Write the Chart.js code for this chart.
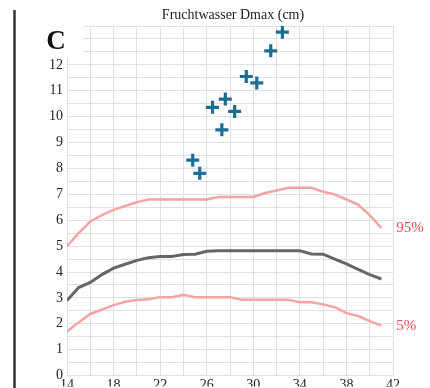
<!DOCTYPE html>
<html>
<head>
<meta charset="utf-8">
<script src="https://cdn.jsdelivr.net/npm/chart.js@4"></script>
<style>
  html, body { margin: 0; padding: 0; background: #fff; }
  #wrap { width: 430px; height: 388px; }
</style>
</head>
<body>
<div id="wrap"><canvas id="myChart" width="430" height="388"></canvas></div>
<script>
// Schwangerschaftswochen
const weeks = [14, 15, 16, 17, 18, 19, 20, 21, 22, 23, 24, 25, 26, 27, 28, 29, 30, 31, 32, 33, 34, 35, 36, 37, 38, 39, 40, 41];
const p95 = [5.0, 5.5, 5.95, 6.2, 6.4, 6.55, 6.7, 6.8, 6.8, 6.8, 6.8, 6.8, 6.8, 6.9, 6.9, 6.9, 6.9, 7.05, 7.15, 7.25, 7.25, 7.25, 7.1, 7.0, 6.8, 6.6, 6.2, 5.7];
const p50 = [2.9, 3.4, 3.6, 3.9, 4.15, 4.3, 4.45, 4.55, 4.6, 4.6, 4.68, 4.69, 4.8, 4.82, 4.82, 4.82, 4.82, 4.82, 4.82, 4.82, 4.82, 4.7, 4.69, 4.5, 4.31, 4.1, 3.9, 3.73];
const p5 = [1.7, 2.05, 2.38, 2.55, 2.72, 2.85, 2.92, 2.95, 3.03, 3.03, 3.12, 3.03, 3.03, 3.03, 3.03, 2.93, 2.93, 2.93, 2.93, 2.93, 2.83, 2.83, 2.75, 2.64, 2.41, 2.3, 2.1, 1.93];

// Messwerte (Kreuze)
const caseWeeks = [24.8, 25.4, 26.5, 27.3, 27.6, 28.4, 29.4, 30.3, 31.5, 32.5];
const caseValues = [8.32, 7.81, 10.36, 9.49, 10.68, 10.2, 11.55, 11.3, 12.54, 13.26];

const xTicks = [14, 18, 22, 26, 30, 34, 38, 42];
const yTicks = [0, 1, 2, 3, 4, 5, 6, 7, 8, 9, 10, 11, 12];

const serif = "'Liberation Serif', 'DejaVu Serif', serif";

function toPoints(xs, ys) {
  return xs.map(function(x, i) { return { x: x, y: ys[i] }; });
}

const extras = {
  id: "extras",
  afterDraw: function(chart) {
    const ctx = chart.ctx;
    const x = chart.scales.x;
    const y = chart.scales.y;
    ctx.save();
    // weisser Kasten hinter dem "C"
    ctx.fillStyle = "#fff";
    ctx.fillRect(17, 0, 66, 58);
    // Rahmenlinie links
    ctx.strokeStyle = "#333";
    ctx.lineWidth = 2.5;
    ctx.beginPath();
    ctx.moveTo(14.5, 10);
    ctx.lineTo(14.5, 388);
    ctx.stroke();
    // Buchstabe C
    ctx.fillStyle = "#111";
    ctx.font = "bold 27px " + serif;
    ctx.textAlign = "center";
    ctx.textBaseline = "middle";
    ctx.fillText("C", 56, 42);
    // Titel
    ctx.font = "14px " + serif;
    ctx.fillStyle = "#222";
    ctx.fillText("Fruchtwasser Dmax (cm)", 233, 15);
    // Perzentil-Beschriftung
    ctx.font = "15px " + serif;
    ctx.fillStyle = "#f04a50";
    ctx.textAlign = "left";
    const last = weeks[weeks.length - 1];
    ctx.fillText("95%", x.getPixelForValue(last) + 15, y.getPixelForValue(p95[p95.length - 1]));
    ctx.fillText("5%", x.getPixelForValue(last) + 15, y.getPixelForValue(p5[p5.length - 1]));
    ctx.restore();
  }
};

const ctx = document.getElementById("myChart").getContext("2d");
new Chart(ctx, {
  type: "line",
  data: {
    datasets: [
      {
        label: "95%",
        data: toPoints(weeks, p95),
        borderColor: "#f5a3a3",
        borderWidth: 2.5,
        pointRadius: 0,
        tension: 0
      },
      {
        label: "50%",
        data: toPoints(weeks, p50),
        borderColor: "#666666",
        borderWidth: 3,
        pointRadius: 0,
        tension: 0
      },
      {
        label: "5%",
        data: toPoints(weeks, p5),
        borderColor: "#f5a3a3",
        borderWidth: 2.5,
        pointRadius: 0,
        tension: 0
      },
      {
        type: "scatter",
        label: "Fall",
        data: toPoints(caseWeeks, caseValues),
        pointStyle: "cross",
        pointRadius: 6.5,
        borderWidth: 3.2,
        borderColor: "#1c6d93",
        backgroundColor: "#1c6d93",
        showLine: false
      }
    ]
  },
  options: {
    responsive: false,
    animation: false,
    layout: { padding: { left: 0, right: 37, top: 26, bottom: 0 } },
    plugins: {
      legend: { display: false },
      tooltip: { enabled: false }
    },
    scales: {
      x: {
        type: "linear",
        min: 14,
        max: 42,
        border: { display: false },
        grid: { color: "#e0e0e0", lineWidth: 1, drawTicks: false },
        afterFit: function(scale) { scale.height = 11; },
        afterBuildTicks: function(scale) {
          const t = [];
          for (let v = 14; v <= 42; v += 2) t.push({ value: v });
          scale.ticks = t;
        },
        ticks: {
          padding: 1,
          maxRotation: 0,
          autoSkip: false,
          color: "#222",
          font: { family: serif, size: 14 },
          callback: function(v) { return xTicks.indexOf(v) >= 0 ? String(v) : ""; }
        }
      },
      y: {
        min: 0,
        max: 13.5,
        border: { display: false },
        grid: { color: "#e0e0e0", lineWidth: 1, drawTicks: false },
        afterFit: function(scale) { scale.width = 67; },
        afterBuildTicks: function(scale) {
          const t = [];
          for (let v = 0; v <= 13.5; v += 0.5) t.push({ value: v });
          scale.ticks = t;
        },
        ticks: {
          padding: 4,
          autoSkip: false,
          color: "#222",
          font: { family: serif, size: 14 },
          callback: function(v) { return yTicks.indexOf(v) >= 0 ? String(v) : ""; }
        }
      }
    }
  },
  plugins: [extras]
});
</script>
</body>
</html>
